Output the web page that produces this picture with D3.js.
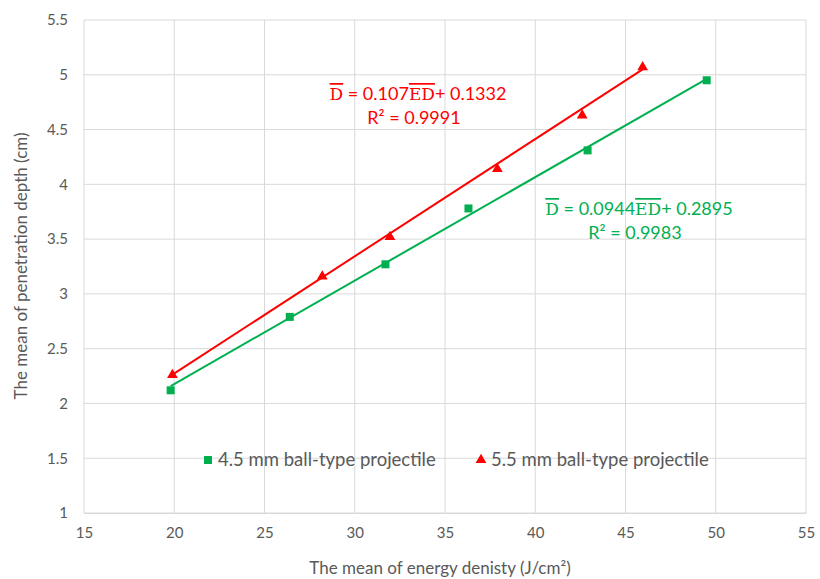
<!DOCTYPE html>
<html><head><meta charset="utf-8">
<script src="https://cdn.jsdelivr.net/npm/d3@7"></script>
<style>
body{margin:0;background:#fff;}
text{font-family:Lato,"Open Sans",sans-serif;}
</style></head>
<body><svg id="c" width="820" height="579"></svg>
<script>
const xTicks = [15,20,25,30,35,40,45,50,55];
const yTicks = [1,1.5,2,2.5,3,3.5,4,4.5,5,5.5];
const series45X = [19.8, 26.4, 31.7, 36.3, 42.9, 49.5];
const series45Y = [2.12, 2.79, 3.27, 3.78, 4.31, 4.95];
const series55X = [19.9, 28.2, 31.95, 37.9, 42.6, 45.95];
const series55Y = [2.26, 3.16, 3.52, 4.14, 4.63, 5.07];
const seriesNames = ["4.5 mm ball-type projectile", "5.5 mm ball-type projectile"];
const trendSlope = [0.0944, 0.107];
const trendIntercept = [0.2895, 0.1332];
const trendSlopeText = ["0.0944", "0.107"];
const trendInterceptText = ["0.2895", "0.1332"];
const r2Text = ["0.9983", "0.9991"];
const colors = ["#00B050", "#FF0000"];

const svg = d3.select("#c");
const x = d3.scaleLinear().domain([15,55]).range([84,806]);
const y = d3.scaleLinear().domain([1,5.5]).range([513,20]);

// grid
svg.append("g").selectAll("line").data(yTicks).join("line")
  .attr("x1",x(15)).attr("x2",x(55)).attr("y1",d=>y(d)).attr("y2",d=>y(d))
  .attr("stroke","#d9d9d9").attr("stroke-width",1);
svg.append("g").selectAll("line").data(xTicks).join("line")
  .attr("y1",y(1)).attr("y2",y(5.5)).attr("x1",d=>x(d)).attr("x2",d=>x(d))
  .attr("stroke","#d9d9d9").attr("stroke-width",1);

// axes labels
const xAxis = d3.axisBottom(x).tickValues(xTicks).tickSize(0).tickPadding(14).tickFormat(d3.format("d"));
const gx = svg.append("g").attr("transform",`translate(0,${y(1)})`).call(xAxis);
gx.select(".domain").attr("stroke","#d9d9d9");
gx.selectAll("text").attr("fill","#595959").style("font-size","15px").style("font-family","Lato,sans-serif");
const yAxis = d3.axisLeft(y).tickValues(yTicks).tickSize(0).tickPadding(16).tickFormat(d=>String(d));
const gy = svg.append("g").attr("transform",`translate(${x(15)},0)`).call(yAxis);
gy.select(".domain").remove();
gy.selectAll("text").attr("fill","#595959").style("font-size","15px").style("font-family","Lato,sans-serif");

// axis titles
svg.append("text").attr("x",440).attr("y",574).attr("text-anchor","middle")
  .attr("fill","#595959").style("font-size","17px").text("The mean of energy denisty (J/cm²)");
svg.append("text").attr("transform","translate(27,266) rotate(-90)").attr("text-anchor","middle")
  .attr("fill","#595959").style("font-size","17px").text("The mean of penetration depth (cm)");

// trendlines
const allX = [series45X, series55X];
[0,1].forEach(i=>{
  const xs = d3.extent(allX[i]);
  svg.append("line")
    .attr("x1",x(xs[0])).attr("y1",y(trendSlope[i]*xs[0]+trendIntercept[i]))
    .attr("x2",x(xs[1])).attr("y2",y(trendSlope[i]*xs[1]+trendIntercept[i]))
    .attr("stroke",colors[i]).attr("stroke-width",2);
});

// markers
const pts45 = series45X.map((v,i)=>[v,series45Y[i]]);
const pts55 = series55X.map((v,i)=>[v,series55Y[i]]);
svg.append("g").selectAll("path").data(pts45).join("path")
  .attr("d",d3.symbol(d3.symbolSquare,64))
  .attr("transform",d=>`translate(${x(d[0])},${y(d[1])})`).attr("fill",colors[0]);
svg.append("g").selectAll("path").data(pts55).join("path")
  .attr("d",d3.symbol(d3.symbolTriangle,50))
  .attr("transform",d=>`translate(${x(d[0])},${y(d[1])})`).attr("fill",colors[1]);

// equations
function equation(i, cx, cy){
  const t = svg.append("text").attr("x",cx).attr("y",cy).attr("text-anchor","middle")
    .attr("fill",colors[i]).style("font-size","18px");
  t.append("tspan").style("font-family","'DejaVu Serif',serif").style("text-decoration","overline").style("font-size","17px").text("D");
  t.append("tspan").text(" = " + trendSlopeText[i]);
  t.append("tspan").style("font-family","'DejaVu Serif',serif").style("text-decoration","overline").style("font-size","17px").text("ED");
  t.append("tspan").text("+ " + trendInterceptText[i]);
  svg.append("text").attr("x",cx-4).attr("y",cy+24).attr("text-anchor","middle")
    .attr("fill",colors[i]).style("font-size","18px").text("R² = " + r2Text[i]);
}
equation(1, 418, 100);
equation(0, 639, 215);

// legend
const leg = [[208,460],[481,460]];
svg.append("path").attr("d",d3.symbol(d3.symbolSquare,64)).attr("transform",`translate(${leg[0][0]},${leg[0][1]})`).attr("fill",colors[0]);
svg.append("path").attr("d",d3.symbol(d3.symbolTriangle,50)).attr("transform",`translate(${leg[1][0]},${leg[1][1]})`).attr("fill",colors[1]);
[0,1].forEach(i=>{
  svg.append("text").attr("x",leg[i][0]+10).attr("y",leg[i][1]+6).attr("fill","#595959")
    .style("font-size","18.5px").text(seriesNames[i]);
});
</script></body></html>
